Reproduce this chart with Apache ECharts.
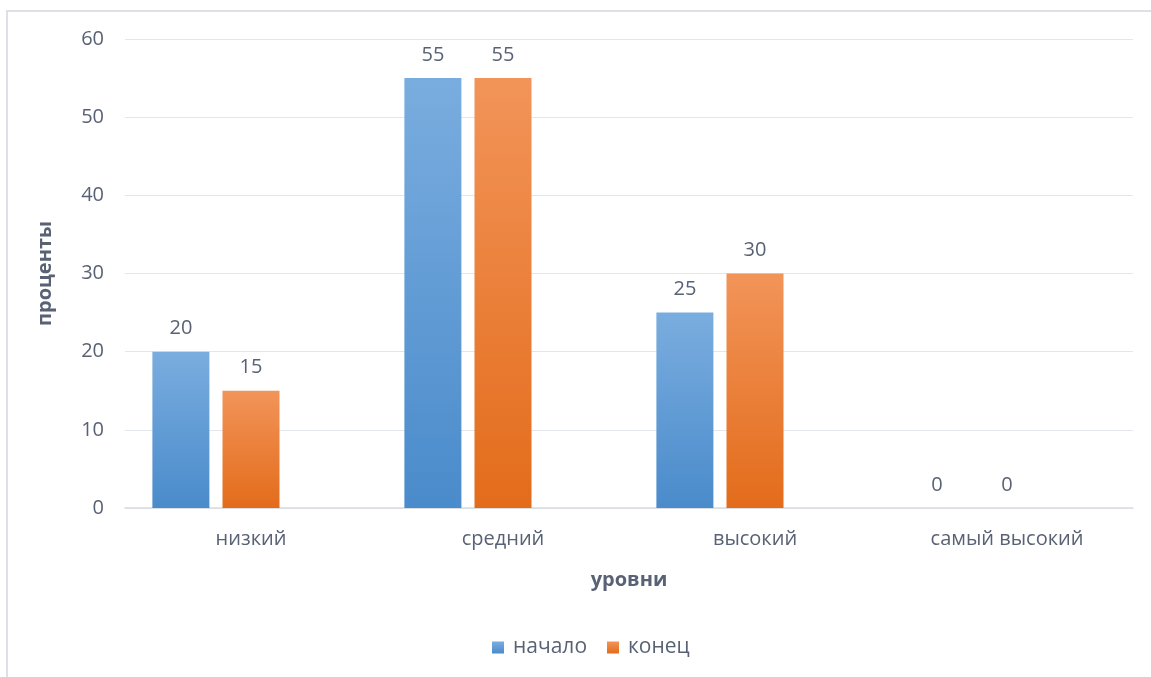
<!DOCTYPE html>
<html><head><meta charset="utf-8">
<script src="https://cdn.jsdelivr.net/npm/echarts@6/dist/echarts.min.js"></script>
<style>html,body{margin:0;padding:0;background:#fff}#c{width:1151px;height:677px}</style>
</head><body><div id="c"></div>
<script>
const categories = ['низкий', 'средний', 'высокий', 'самый высокий'];
const seriesNames = ['начало', 'конец'];
const startValues = [20, 55, 25, 0];
const endValues = [15, 55, 30, 0];
const emptyValues = [];
const yTicks = { min: 0, max: 60, interval: 10 };

const textColor = '#596275';
const font = 'Open Sans';
function grad(top, bottom) {
  return new echarts.graphic.LinearGradient(0, 0, 0, 1, [
    { offset: 0, color: top }, { offset: 1, color: bottom }
  ]);
}
const chart = echarts.init(document.getElementById('c'));
const labelCfg = { show: true, position: 'top', distance: 13, color: textColor, fontSize: 20, fontFamily: font };
chart.setOption({
  backgroundColor: '#fff',
  animation: false,
  graphic: [{ type: 'rect', shape: { x: 7, y: 11, width: 1200, height: 700 }, style: { fill: 'none', stroke: '#dde1e6', lineWidth: 2 }, silent: true }],
  grid: { left: 125, right: 18, top: 39, bottom: 169, containLabel: false },
  legend: {
    data: seriesNames, bottom: 14, left: 487, itemWidth: 12, itemHeight: 12, itemGap: 20,
    icon: 'rect', textStyle: { color: textColor, fontSize: 21, fontFamily: font, padding: [0, 0, 0, 4] }
  },
  xAxis: {
    type: 'category', data: categories,
    name: 'уровни', nameLocation: 'middle', nameGap: 62,
    nameTextStyle: { color: textColor, fontSize: 20, fontWeight: 'bold', fontFamily: font },
    axisLine: { lineStyle: { color: '#d9dce1', width: 1.5 } }, axisTick: { show: false },
    axisLabel: { color: textColor, fontSize: 20, margin: 21, fontFamily: font }
  },
  yAxis: {
    type: 'value', min: yTicks.min, max: yTicks.max, interval: yTicks.interval,
    name: 'проценты', nameLocation: 'middle', nameGap: 70, nameRotate: 90,
    nameTextStyle: { color: textColor, fontSize: 20, fontWeight: 'bold', fontFamily: font },
    axisLine: { show: false }, axisTick: { show: false },
    axisLabel: { color: textColor, fontSize: 20, margin: 21, fontFamily: font },
    splitLine: { lineStyle: { color: '#e3e6ea', width: 1 } }
  },
  series: [
    { name: seriesNames[0], type: 'bar', data: startValues, barWidth: 57, barGap: '23%',
      itemStyle: { color: grad('#7aaddf', '#4a8bcb') }, label: labelCfg },
    { name: seriesNames[1], type: 'bar', data: endValues, barWidth: 57, barGap: '23%',
      itemStyle: { color: grad('#f29459', '#e36c1b') }, label: labelCfg },
    { name: '', type: 'bar', data: emptyValues, barWidth: 57, barGap: '23%' }
  ]
});
</script></body></html>
